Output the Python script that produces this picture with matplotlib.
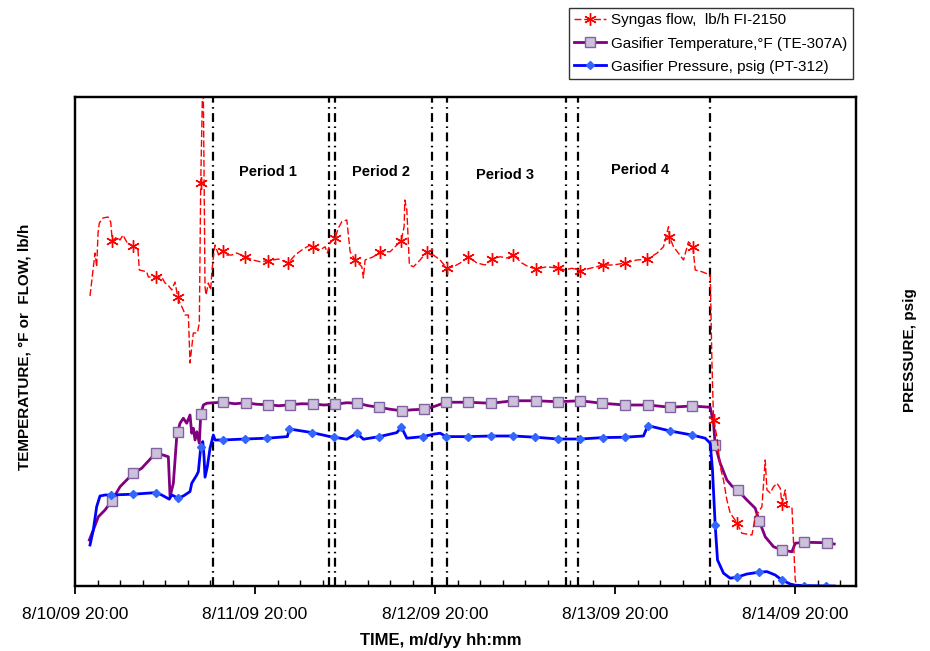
from datetime import datetime, timedelta

import matplotlib
matplotlib.use("Agg")
import matplotlib.pyplot as plt

plt.rcParams['font.family'] = ['Liberation Sans', 'DejaVu Sans']

t0 = datetime(2009, 8, 10, 20, 0)

# syngas flow, lb/h (hours after 8/10/09 20:00)
flow_h = [2.0, 2.67, 2.89, 3.07, 3.24, 3.73, 4.4, 4.76, 4.97, 5.56, 6.0, 6.4, 6.89, 7.69, 8.4, 8.57,
          9.56, 9.77, 10.8, 11.56, 12.0, 12.4, 12.89, 13.33, 13.69, 14.0, 14.44, 14.67, 15.11, 15.33,
          15.77, 16.31, 16.57, 16.76, 17.07, 17.33, 17.47, 17.77, 18.09, 18.23, 18.44, 18.67, 19.2,
          19.69, 20.23, 20.89, 21.56, 22.67, 23.73, 24.67, 25.77, 27.11, 28.44, 29.33, 30.23, 31.33,
          31.77, 32.67, 33.33, 33.64, 34.0, 34.67, 35.11, 35.56, 36.23, 36.67, 37.33, 38.23, 38.44,
          38.67, 39.77, 40.67, 42.0, 42.89, 43.47, 43.87, 43.96, 44.23, 44.57, 45.11, 46.0, 46.89,
          47.77, 48.67, 49.56, 50.44, 51.33, 52.44, 53.56, 54.67, 55.56, 56.67, 57.56, 58.44, 59.56,
          60.44, 61.47, 62.89, 64.44, 65.33, 66.23, 67.33, 68.67, 70.44, 71.77, 73.33, 74.89, 76.23,
          77.56, 78.44, 79.11, 79.24, 79.77, 80.44, 81.11, 81.77, 82.36, 82.67, 83.56, 84.67, 84.89,
          85.11, 85.56, 86.0, 86.44, 86.89, 87.33, 88.23, 88.89, 90.23, 90.67, 91.56, 92.0, 92.23,
          92.67, 93.11, 93.56, 94.0, 94.23, 94.67, 94.89, 95.56, 96.0, 96.23, 100.23]
flow = [1160, 1332, 1276, 1412, 1452, 1472, 1476, 1456, 1380, 1396, 1384, 1404, 1376, 1360, 1344, 1264,
        1257, 1236, 1236, 1236, 1212, 1204, 1184, 1216, 1156, 1132, 1104, 1084, 1084, 892,
        1012, 1012, 1052, 1612, 2100, 1196, 1164, 1212, 1184, 1252, 1316, 1364, 1320,
        1341, 1324, 1324, 1332, 1317, 1304, 1297, 1301, 1308, 1292, 1324, 1344, 1364,
        1356, 1344, 1357, 1332, 1372, 1392, 1432, 1457, 1464, 1337, 1304, 1277, 1232,
        1304, 1317, 1337, 1337, 1364, 1381, 1437, 1544, 1504, 1284, 1277, 1304, 1337,
        1324, 1304, 1271, 1277, 1292, 1317, 1292, 1284, 1308, 1317, 1312, 1324, 1292,
        1277, 1268, 1277, 1271, 1264, 1271, 1261, 1271, 1284, 1284, 1292, 1304, 1307,
        1331, 1357, 1437, 1397, 1357, 1331, 1304, 1377, 1357, 1264, 1257, 1244, 904,
        664, 597, 477, 424, 344, 292, 253, 211, 204, 277, 317, 504, 384,
        372, 397, 411, 391, 328, 384, 317, 317, 24, 0, 0]
flow_marks = [4.97, 7.69, 10.8, 13.69, 16.76, 19.69, 22.67, 25.77, 28.44, 31.77, 34.67, 37.33, 40.67,
              43.47, 46.89, 49.56, 52.44, 55.56, 58.44, 61.47, 64.44, 67.33, 70.44, 73.33, 76.23,
              79.24, 82.36, 85.11, 88.23, 94.23]

# gasifier temperature, F
temp_h = [1.91, 2.44, 3.11, 4.0, 4.89, 6.0, 7.77, 8.89, 10.8, 12.44, 12.67, 13.11, 13.56, 13.69, 14.0,
          14.44, 14.89, 15.33, 15.56, 15.77, 16.0, 16.23, 16.57, 16.76, 17.11, 17.56, 18.44, 19.77,
          21.3, 22.8, 24.2, 25.69, 27.2, 28.67, 30.2, 31.69, 33.2, 34.67, 36.2, 37.64, 39.1, 40.53,
          42.0, 43.56, 45.0, 46.53, 47.77, 49.47, 52.44, 55.47, 58.44, 61.47, 64.36, 67.33, 70.23,
          73.33, 76.36, 79.33, 82.23, 84.67, 85.11, 85.33, 86.0, 86.89, 87.56, 88.31, 89.56, 90.67,
          91.2, 92.0, 93.11, 94.23, 95.56, 96.0, 97.11, 100.23, 101.2]
temp = [184, 224, 277, 304, 340, 397, 451, 471, 533, 517, 357, 411, 597, 617, 651,
        671, 651, 684, 611, 631, 584, 617, 571, 687, 724, 731, 733, 735,
        729, 733, 727, 725, 721, 725, 729, 728, 724, 727, 733, 731, 721, 715,
        707, 701, 705, 707, 717, 735, 735, 731, 741, 741, 737, 741, 731,
        724, 724, 715, 720, 715, 651, 564, 491, 424, 400, 384, 344, 311,
        260, 197, 157, 144, 137, 171, 175, 173, 168]
temp_marks = [4.89, 7.77, 10.8, 13.69, 16.76, 19.77, 22.8, 25.69, 28.67, 31.69, 34.67, 37.64, 40.53,
              43.56, 46.53, 49.47, 52.44, 55.47, 58.44, 61.47, 64.36, 67.33, 70.23, 73.33, 76.36,
              79.33, 82.23, 85.33, 88.31, 91.2, 94.23, 97.11, 100.23]

# gasifier pressure, psig
pres_h = [2.0, 2.44, 2.89, 3.33, 4.0, 4.8, 7.77, 10.8, 11.56, 12.57, 12.89, 13.2, 13.69, 14.44, 15.33,
          15.56, 16.23, 16.44, 16.76, 17.03, 17.2, 17.33, 17.64, 18.0, 18.44, 18.67, 19.69, 22.67,
          25.64, 28.31, 28.57, 31.6, 34.0, 34.53, 36.23, 37.56, 38.44, 40.57, 42.89, 43.51, 44.23,
          46.44, 47.77, 48.67, 49.47, 52.44, 55.47, 58.44, 61.33, 64.36, 67.33, 70.36, 73.33, 75.77,
          76.36, 79.33, 82.23, 84.0, 84.67, 84.97, 85.33, 85.64, 86.44, 87.33, 88.23, 89.56, 91.2,
          92.23, 93.33, 94.23, 95.33, 96.0, 97.11, 100.09, 101.2]
pres = [20.5, 28, 39.7, 45, 45.5, 45.5, 45.9, 46.7, 45.5, 43.4, 45.5, 45, 43.9, 45, 47.2,
        51.4, 55.5, 57.2, 69.4, 72.2, 64.7, 54.4, 59.7, 68.9, 75.5, 73, 73, 73.5,
        73.9, 74.7, 78.5, 76.7, 74.7, 74.4, 73.4, 76.4, 73.4, 74.7, 76.7, 79.4, 73.9,
        74.7, 75.9, 76.4, 74.7, 74.7, 75, 75, 74.4, 73.5, 73.5, 74.2, 74.4, 75,
        80.2, 77.5, 75.5, 73.9, 71.4, 58, 30.5, 13, 6.4, 3.9, 4.4, 6, 6.9,
        7.2, 5.5, 3, 1, 0.4, 0.2, 0, 0]
pres_marks = [4.8, 7.77, 10.8, 13.69, 16.76, 19.69, 22.67, 25.64, 28.57, 31.6, 34.53, 37.56, 40.57,
              43.51, 46.44, 49.47, 52.44, 55.47, 58.44, 61.33, 64.36, 67.33, 70.36, 73.33, 76.36,
              79.33, 82.23, 85.33, 88.23, 91.2, 94.23, 97.11, 100.09]

# period boundaries (hours) and labels
bounds_h = [18.4, 33.83, 34.67, 47.56, 49.56, 65.43, 67.11, 84.67]
periods = ['Period 1', 'Period 2', 'Period 3', 'Period 4']
period_h = [25.7, 40.8, 57.3, 75.3]
period_y = [1656, 1656, 1644, 1664]

tick_labels = ['8/10/09 20:00', '8/11/09 20:00', '8/12/09 20:00', '8/13/09 20:00', '8/14/09 20:00']


def to_time(hours):
    return [t0 + timedelta(hours=h) for h in hours]


fig = plt.figure(figsize=(9.3, 6.51), dpi=100)
ax = fig.add_axes([75 / 930, 65 / 651, 781 / 930, 489 / 651])
ax2 = ax.twinx()

l1, = ax.plot(to_time(flow_h), flow, color='#FF0000', lw=1, ls=(0, (5, 2)),
              marker=(6, 2, 0), ms=9, mew=1, mec='#FF0000',
              markevery=[flow_h.index(m) for m in flow_marks], zorder=3)
l2, = ax.plot(to_time(temp_h), temp, color='#800080', lw=2,
              marker='s', ms=7, mfc='#CCC0DA', mec='#8064A2', mew=1,
              markevery=[temp_h.index(m) for m in temp_marks], zorder=2)
l3, = ax2.plot(to_time(pres_h), pres, color='#0000FF', lw=2,
               marker='D', ms=4.5, mfc='#3366FF', mec='#3366FF',
               markevery=[pres_h.index(m) for m in pres_marks], zorder=2)

for b in bounds_h:
    ax.axvline(t0 + timedelta(hours=b), color='black', lw=1.6, ls=(0, (4, 2, 0.7, 2)), zorder=1)

for name, h, y in zip(periods, period_h, period_y):
    ax.text(t0 + timedelta(hours=h), y, name, ha='center', va='center',
            fontsize=10.5, fontweight='bold')

ax.set_xlim(t0, t0 + timedelta(hours=104.1))
ax.set_ylim(0, 1956)
ax2.set_ylim(0, 244.5)

major = [t0 + timedelta(days=d) for d in range(len(tick_labels))]
ax.set_xticks(major)
ax.set_xticklabels(tick_labels, fontsize=12.5)
ax.set_xticks([t0 + timedelta(hours=3 * i) for i in range(35) if i % 8], minor=True)
ax.tick_params(axis='x', which='major', direction='out', length=6, width=1.3, pad=9)
ax.tick_params(axis='x', which='minor', direction='in', length=4, width=1)
ax.set_yticks([])
ax2.set_yticks([])

for a in (ax, ax2):
    for s in a.spines.values():
        s.set_linewidth(1.6)

fig.text(25 / 930, 1 - 347 / 651, 'TEMPERATURE, °F or  FLOW, lb/h', rotation=90,
         ha='center', va='center', fontsize=11, fontweight='bold')
fig.text(910 / 930, 1 - 350 / 651, 'PRESSURE, psig', rotation=90,
         ha='center', va='center', fontsize=11, fontweight='bold')
fig.text(441 / 930, 1 - 640 / 651, 'TIME, m/d/yy hh:mm', ha='center', va='center',
         fontsize=12, fontweight='bold')

leg = fig.legend([l1, l2, l3],
                 ['Syngas flow,  lb/h FI-2150', 'Gasifier Temperature,°F (TE-307A)',
                  'Gasifier Pressure, psig (PT-312)'],
                 loc='upper left', bbox_to_anchor=(569 / 930, 1 - 8 / 651),
                 fontsize=11, frameon=True, fancybox=False, edgecolor='black',
                 borderaxespad=0, handlelength=2.1, handletextpad=0.3,
                 labelspacing=0.6, borderpad=0.35)
leg.get_frame().set_linewidth(1)

fig.savefig('out.png', dpi=100)
